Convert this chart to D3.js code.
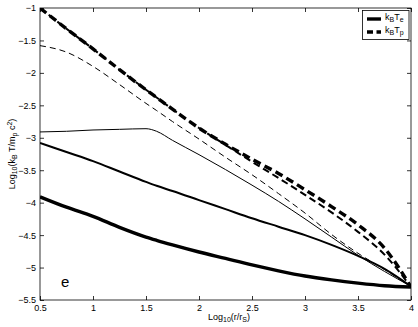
<!DOCTYPE html>
<html lang="en">
<head>
<meta charset="utf-8" />
<title>Temperature profiles</title>
<style>
  body { margin: 0; background: #fff; }
  svg { display: block; font-family: "Liberation Sans", Arial, Helvetica, sans-serif; }
  .axis text { font-size: 9px; fill: #000; }
  .axis line { stroke: #000; stroke-width: 0.8; }
</style>
</head>
<body>
<script src="https://cdn.jsdelivr.net/npm/d3@7"></script>
<script>
// data: log10(r/rS) and log10(kT / m_p c^2)
const logR = [0.5, 0.75, 1, 1.25, 1.5, 1.6, 1.75, 2, 2.25, 2.5, 2.75, 3, 3.25, 3.5, 3.75, 4];

const tpThick = [-1.00, -1.32, -1.63, -1.95, -2.26, -2.38, -2.56, -2.85, -3.10, -3.33, -3.55, -3.80, -4.06, -4.34, -4.70, -5.30];
const tpMid   = [-1.00, -1.32, -1.63, -1.95, -2.26, -2.38, -2.56, -2.85, -3.11, -3.37, -3.62, -3.88, -4.15, -4.45, -4.80, -5.30];
const tpThin  = [-1.58, -1.68, -1.90, -2.18, -2.47, -2.58, -2.75, -3.02, -3.30, -3.57, -3.86, -4.16, -4.49, -4.78, -5.03, -5.29];
const teThin  = [-2.91, -2.90, -2.88, -2.87, -2.86, -2.90, -3.04, -3.26, -3.49, -3.73, -3.98, -4.25, -4.53, -4.81, -5.06, -5.29];
const teMid   = [-3.08, -3.22, -3.36, -3.52, -3.68, -3.74, -3.82, -3.96, -4.10, -4.24, -4.37, -4.50, -4.65, -4.82, -5.02, -5.29];
const teThick = [-3.91, -4.07, -4.21, -4.38, -4.53, -4.58, -4.65, -4.76, -4.86, -4.96, -5.05, -5.13, -5.19, -5.24, -5.28, -5.30];

const xTicks = [0.5, 1, 1.5, 2, 2.5, 3, 3.5, 4];
const yTicks = [-1, -1.5, -2, -2.5, -3, -3.5, -4, -4.5, -5, -5.5];

const width = 418, height = 327;
const pLeft = 40, pRight = 411, pTop = 8, pBottom = 300;

const svg = d3.select("body").append("svg")
    .attr("width", width)
    .attr("height", height);

const x = d3.scaleLinear().domain([0.5, 4]).range([pLeft, pRight]);
const y = d3.scaleLinear().domain([-5.5, -1]).range([pBottom, pTop]);

svg.append("clipPath").attr("id", "plot")
  .append("rect")
    .attr("x", pLeft).attr("y", pTop)
    .attr("width", pRight - pLeft).attr("height", pBottom - pTop);

// curves
const series = [
  { vals: teThick, w: 3.4, dash: null },
  { vals: teMid,   w: 2,   dash: null },
  { vals: teThin,  w: 1,   dash: null },
  { vals: tpThin,  w: 1,   dash: "6,4" },
  { vals: tpMid,   w: 2,   dash: "7,4" },
  { vals: tpThick, w: 3.4, dash: "8,4.5" }
];

const line = d3.line()
    .x(d => x(d[0]))
    .y(d => y(d[1]))
    .curve(d3.curveMonotoneX);

svg.append("g").attr("clip-path", "url(#plot)")
  .selectAll("path")
  .data(series)
  .enter()
  .append("path")
    .attr("d", s => line(logR.map((r, i) => [r, s.vals[i]])))
    .attr("fill", "none")
    .attr("stroke", "#000")
    .attr("stroke-width", s => s.w)
    .attr("stroke-dasharray", s => s.dash);

// axes, ticks pointing inward
const fmt = d3.format("~g");

svg.append("g").attr("class", "axis")
    .attr("transform", "translate(0," + pBottom + ")")
    .call(d3.axisBottom(x).tickValues(xTicks).tickFormat(fmt).tickSize(-4).tickPadding(5))
    .call(g => g.select(".domain").remove());

svg.append("g").attr("class", "axis")
    .attr("transform", "translate(0," + pTop + ")")
    .call(d3.axisTop(x).tickValues(xTicks).tickSize(-4).tickFormat(""))
    .call(g => g.select(".domain").remove());

svg.append("g").attr("class", "axis")
    .attr("transform", "translate(" + pLeft + ",0)")
    .call(d3.axisLeft(y).tickValues(yTicks).tickFormat(fmt).tickSize(-4).tickPadding(4))
    .call(g => g.select(".domain").remove());

svg.append("g").attr("class", "axis")
    .attr("transform", "translate(" + pRight + ",0)")
    .call(d3.axisRight(y).tickValues(yTicks).tickSize(-4).tickFormat(""))
    .call(g => g.select(".domain").remove());

svg.append("rect")
    .attr("x", pLeft).attr("y", pTop)
    .attr("width", pRight - pLeft).attr("height", pBottom - pTop)
    .attr("fill", "none")
    .attr("stroke", "#000")
    .attr("stroke-width", 0.8);

// axis labels
const xl = svg.append("text")
    .attr("x", 208)
    .attr("y", 320)
    .style("font-size", "9px");
xl.append("tspan").text("Log");
xl.append("tspan").attr("baseline-shift", "-30%").style("font-size", "7px").text("10");
xl.append("tspan").text("(r/r");
xl.append("tspan").attr("baseline-shift", "-30%").style("font-size", "7px").text("S");
xl.append("tspan").text(")");

const yl = svg.append("text")
    .attr("transform", "translate(15," + ((pTop + pBottom) / 2) + ") rotate(-90)")
    .attr("text-anchor", "middle")
    .style("font-size", "9px");
yl.append("tspan").text("Log");
yl.append("tspan").attr("baseline-shift", "-30%").style("font-size", "7px").text("10");
yl.append("tspan").text("(k");
yl.append("tspan").attr("baseline-shift", "-30%").style("font-size", "7px").text("B");
yl.append("tspan").text(" T/m");
yl.append("tspan").attr("baseline-shift", "-30%").style("font-size", "7px").text("p");
yl.append("tspan").text(" c");
yl.append("tspan").attr("baseline-shift", "super").style("font-size", "7px").text("2");
yl.append("tspan").text(")");

// panel letter
svg.append("text")
    .attr("x", 61).attr("y", 287)
    .style("font-size", "15px")
    .text("e");

// legend
const legend = [
  { sub: "e", dash: null, yy: 19 },
  { sub: "p", dash: "6,3.5", yy: 32 }
];
svg.append("rect")
    .attr("x", 362.5).attr("y", 10.5)
    .attr("width", 46.5).attr("height", 29)
    .attr("fill", "#fff")
    .attr("stroke", "#000")
    .attr("stroke-width", 0.8);

const lg = svg.selectAll(".lg")
  .data(legend)
  .enter()
  .append("g")
    .attr("class", "lg");

lg.append("line")
    .attr("x1", 367).attr("x2", 381)
    .attr("y1", d => d.yy).attr("y2", d => d.yy)
    .attr("stroke", "#000")
    .attr("stroke-width", 3.4)
    .attr("stroke-dasharray", d => d.dash);

const lt = lg.append("text")
    .attr("x", 385)
    .attr("y", d => d.yy + 1)
    .style("font-size", "9px");
lt.append("tspan").text("k");
lt.append("tspan").attr("baseline-shift", "-30%").style("font-size", "7px").text("B");
lt.append("tspan").text("T");
lt.append("tspan").attr("baseline-shift", "-30%").style("font-size", "7px").text(d => d.sub);
</script>
</body>
</html>
